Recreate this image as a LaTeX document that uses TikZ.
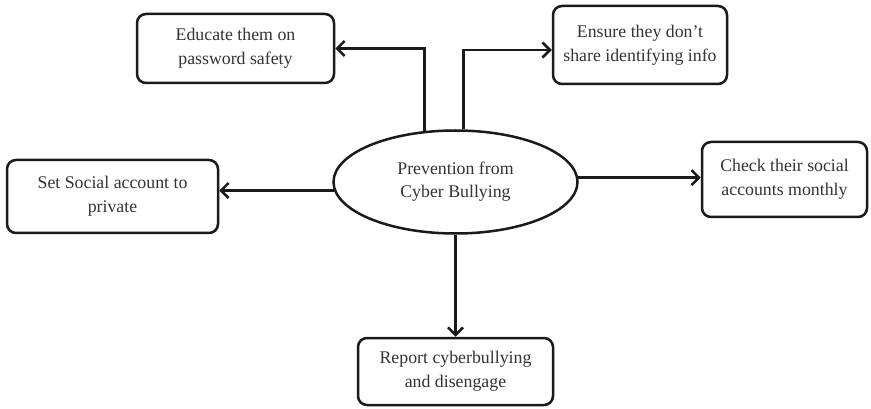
\documentclass[tikz,border=0pt]{standalone}
\usepackage{fontspec}
\setmainfont{Liberation Serif}
\usetikzlibrary{shapes.geometric,arrows.meta,shadows}
\definecolor{txt}{HTML}{333333}
\definecolor{ln}{HTML}{1A1A1A}
\tikzset{
  box/.style={draw=ln, line width=2.5pt, rounded corners=9pt, fill=white,
    align=center, text=txt, inner sep=0pt,
    font=\fontsize{17.8}{24}\selectfont,
    drop shadow={opacity=0.18, shadow xshift=1.2pt, shadow yshift=-1.2pt}},
  hub/.style={draw=ln, line width=2.5pt, ellipse, fill=white, align=center,
    text=txt, inner sep=0pt, font=\fontsize{17.8}{23}\selectfont},
  arr/.style={draw=ln, line width=2.7pt,
    -{Straight Barb[length=7.5pt,width=15pt,line width=2.5pt]}}
}
\begin{document}
\begin{tikzpicture}[x=1pt,y=-1pt]
\useasboundingbox (0,0) rectangle (871,409);
\node[hub, minimum width=244pt, minimum height=103pt] (c) at (455.5,182)
  {Prevention from\\Cyber Bullying};
\node[box, minimum width=197pt, minimum height=69pt] (edu) at (235.5,48.5)
  {Educate them on\\password safety};
\node[box, minimum width=174pt, minimum height=78pt] (ens) at (640,45)
  {Ensure they don't\\share identifying info};
\node[box, minimum width=211pt, minimum height=73pt] (soc) at (112.5,196.5)
  {Set Social account to\\private};
\node[box, minimum width=165pt, minimum height=75pt] (chk) at (784.5,179.5)
  {Check their social\\accounts monthly};
\node[box, minimum width=195pt, minimum height=67pt] (rep) at (455.5,371.5)
  {Report cyberbullying\\and disengage};
\draw[arr] (c.121) |- (edu.east);
\draw[arr] (c.81) |- ([yshift=-5pt]ens.west);
\draw[arr] (c.184) -- (c.184 -| soc.east);
\draw[arr] (c.2) -- (c.2 -| chk.west);
\draw[arr] (c.south) -- (c.south |- rep.north);
\end{tikzpicture}
\end{document}
